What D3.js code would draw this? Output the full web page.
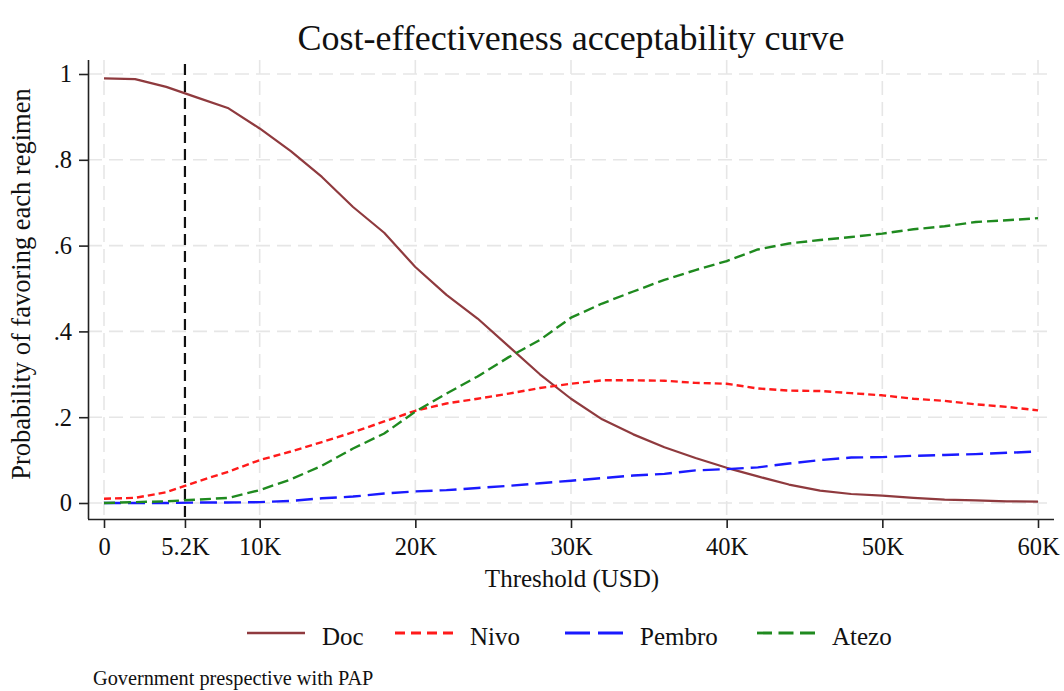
<!DOCTYPE html>
<html>
<head>
<meta charset="utf-8">
<script src="https://cdn.jsdelivr.net/npm/d3@7"></script>
<style>
  body { margin: 0; background: #fff; }
  svg { display: block; }
  text { font-family: "Liberation Serif", "Times New Roman", serif; fill: #111; }
</style>
</head>
<body>
<svg id="chart" width="1064" height="691"></svg>
<script>
// Willingness-to-pay thresholds (USD), one every 2K
const thresholds = d3.range(0, 60001, 2000);

// Probability that each regimen is the cost-effective choice
const doc    = [0.990, 0.988, 0.970, 0.945, 0.920, 0.873, 0.820, 0.760, 0.690, 0.630, 0.550,
                0.485, 0.430, 0.365, 0.300, 0.243, 0.195, 0.160, 0.130, 0.105, 0.082,
                0.062, 0.043, 0.029, 0.021, 0.017, 0.012, 0.008, 0.006, 0.004, 0.003];
const nivo   = [0.010, 0.012, 0.025, 0.050, 0.073, 0.100, 0.120, 0.142, 0.165, 0.190, 0.215,
                0.232, 0.243, 0.255, 0.268, 0.278, 0.286, 0.286, 0.285, 0.280, 0.278,
                0.267, 0.262, 0.261, 0.256, 0.251, 0.243, 0.238, 0.230, 0.224, 0.216];
const pembro = [0.000, 0.000, 0.000, 0.001, 0.001, 0.002, 0.005, 0.011, 0.015, 0.022, 0.027,
                0.030, 0.035, 0.040, 0.046, 0.052, 0.058, 0.064, 0.068, 0.076, 0.079,
                0.083, 0.092, 0.100, 0.106, 0.107, 0.110, 0.112, 0.114, 0.117, 0.120];
const atezo  = [0.000, 0.002, 0.004, 0.008, 0.012, 0.030, 0.055, 0.087, 0.127, 0.162, 0.213,
                0.255, 0.295, 0.340, 0.380, 0.432, 0.465, 0.493, 0.520, 0.543, 0.564,
                0.591, 0.605, 0.613, 0.620, 0.628, 0.638, 0.645, 0.655, 0.659, 0.664];

const regimens = ["Doc", "Nivo", "Pembro", "Atezo"];
const seriesValues = [doc, nivo, pembro, atezo];

const xTickValues = [0, 5200, 10000, 20000, 30000, 40000, 50000, 60000];
const xTickLabels = ["0", "5.2K", "10K", "20K", "30K", "40K", "50K", "60K"];
const xGridValues = [0, 10000, 20000, 30000, 40000, 50000, 60000];
const yTickValues = [0, 0.2, 0.4, 0.6, 0.8, 1];
const yTickLabels = ["0", ".2", ".4", ".6", ".8", "1"];
const referenceThreshold = 5200;

const styles = [
  { color: "#8f3a3e", dash: null,    legendDash: null,       width: 2.2 },
  { color: "#ff1a1a", dash: "7,4",   legendDash: "10,6",     width: 2.4 },
  { color: "#1a1aff", dash: "17,7",  legendDash: "25,8",     width: 2.4 },
  { color: "#1f8a1f", dash: "11,5",  legendDash: "15,6.5",   width: 2.4 }
];

const svg = d3.select("#chart");
const plot = { left: 88, right: 1054, top: 60, bottom: 519 };

const x = d3.scaleLinear().domain([0, 60000]).range([104, 1038]);
const y = d3.scaleLinear().domain([0, 1]).range([503, 74]);

// Grid
const grid = svg.append("g").attr("stroke", "#e6e6e6").attr("stroke-width", 1.6)
  .attr("stroke-dasharray", "14,7").attr("fill", "none");
grid.selectAll("line.v").data(xGridValues).join("line").attr("class", "v")
  .attr("x1", d => x(d)).attr("x2", d => x(d))
  .attr("y1", plot.top).attr("y2", plot.bottom);
grid.selectAll("line.h").data(yTickValues).join("line").attr("class", "h")
  .attr("x1", plot.left).attr("x2", plot.right - 4)
  .attr("y1", d => y(d)).attr("y2", d => y(d));

// Reference threshold
svg.append("line")
  .attr("x1", x(referenceThreshold)).attr("x2", x(referenceThreshold))
  .attr("y1", plot.top + 4).attr("y2", plot.bottom)
  .attr("stroke", "#111").attr("stroke-width", 2.2).attr("stroke-dasharray", "11,6");

// Curves
const line = d3.line().x((d, i) => x(thresholds[i])).y(d => y(d));
svg.append("g").selectAll("path").data(seriesValues).join("path")
  .attr("d", d => line(d))
  .attr("fill", "none")
  .attr("stroke", (d, i) => styles[i].color)
  .attr("stroke-width", (d, i) => styles[i].width)
  .attr("stroke-dasharray", (d, i) => styles[i].dash)
  .attr("stroke-linejoin", "round");

// Axes
const xAxis = d3.axisBottom(x).tickValues(xTickValues)
  .tickFormat((d, i) => xTickLabels[i]).tickSize(9).tickPadding(10).tickSizeOuter(0);
const gx = svg.append("g").attr("transform", `translate(0,${plot.bottom})`).call(xAxis);
gx.select(".domain").attr("d", `M${plot.left},0.5H${plot.right}`);
const yAxis = d3.axisLeft(y).tickValues(yTickValues)
  .tickFormat((d, i) => yTickLabels[i]).tickSize(9).tickPadding(7).tickSizeOuter(0);
const gy = svg.append("g").attr("transform", `translate(${plot.left},0)`).call(yAxis);
gy.select(".domain").attr("d", `M0.5,${plot.top}V${plot.bottom}`);
[gx, gy].forEach(g => {
  g.selectAll(".domain, line").attr("stroke", "#222").attr("stroke-width", 1.6);
  g.selectAll("text").style("font-size", "24.5px").style("font-family", '"Liberation Serif", serif').attr("fill", "#111");
});

// Titles
svg.append("text").attr("x", 571).attr("y", 50).attr("text-anchor", "middle")
  .style("font-size", "36px").text("Cost-effectiveness acceptability curve");
svg.append("text").attr("x", 572).attr("y", 587).attr("text-anchor", "middle")
  .style("font-size", "25px").text("Threshold (USD)");
svg.append("text").attr("transform", "translate(30,284) rotate(-90)").attr("text-anchor", "middle")
  .style("font-size", "26.5px").text("Probability of favoring each regimen");

// Legend
const legendX = [247, 395, 565, 757];
const legend = svg.append("g").selectAll("g").data(regimens).join("g")
  .attr("transform", (d, i) => `translate(${legendX[i]},633)`);
legend.append("line").attr("x1", 0).attr("x2", 58).attr("y1", 0).attr("y2", 0)
  .attr("stroke", (d, i) => styles[i].color)
  .attr("stroke-width", (d, i) => styles[i].width + 0.4)
  .attr("stroke-dasharray", (d, i) => styles[i].legendDash);
legend.append("text").attr("x", 75).attr("y", 12).style("font-size", "25px").text(d => d);

// Note
svg.append("text").attr("x", 93).attr("y", 685).style("font-size", "20.3px")
  .text("Government prespective with PAP");
</script>
</body>
</html>
